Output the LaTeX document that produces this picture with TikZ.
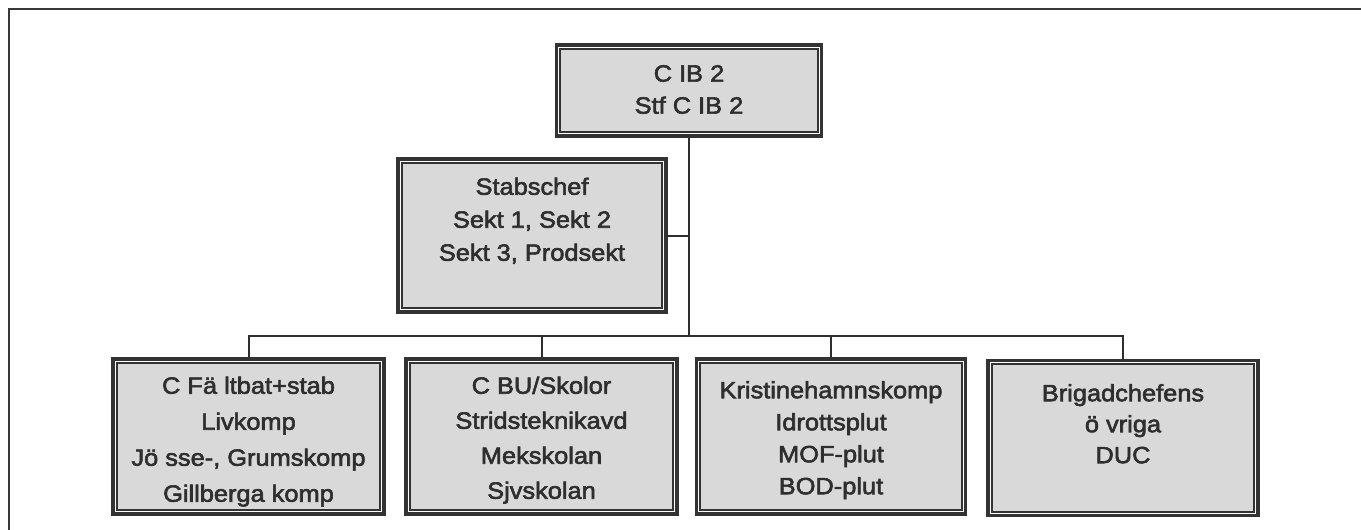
\documentclass[tikz,border=0pt]{standalone}
\usepackage{fontspec}
\setmainfont{Liberation Sans}[FakeStretch=1.08,FakeBold=2.5]
\begin{document}
\begin{tikzpicture}[x=1pt,y=-1pt,
  orgbox/.style={draw=black!80, line width=3.4pt, fill=white, inner sep=0pt},
  inframe/.style={draw=black!80, line width=2pt, fill=black!15},
  conn/.style={draw=black!82, line width=2pt},
  lbl/.style={anchor=north, inner sep=0pt, align=center, text=black!82}
]
\useasboundingbox (0,0) rectangle (1361,530);
% outer frame (open to the right and bottom)
\draw[draw=black!78, line width=2.2pt] (9,530) -- (9,9) -- (1361,9);

% boxes
\node[orgbox, minimum width=265pt, minimum height=91pt] (top) at (689,90.5) {};
\node[orgbox, minimum width=268pt, minimum height=153pt] (staff) at (532,235.5) {};
\node[orgbox, minimum width=271pt, minimum height=155pt] (b1) at (248.5,436.5) {};
\node[orgbox, minimum width=271pt, minimum height=155pt] (b2) at (541.5,436.5) {};
\node[orgbox, minimum width=269pt, minimum height=155pt] (b3) at (831,436.5) {};
\node[orgbox, minimum width=270pt, minimum height=155pt] (b4) at (1123,438) {};

\foreach \n in {top,staff,b1,b2,b3,b4}
  \draw[inframe] ([xshift=5.5pt,yshift=-5.5pt]\n.north west) rectangle ([xshift=-5.5pt,yshift=5.5pt]\n.south east);

% texts
\node[lbl, font=\fontsize{23.5}{32}\selectfont] (ttop) at (689,65) {C IB 2\\Stf C IB 2};
\node[lbl, font=\fontsize{23.5}{33}\selectfont] (tstaff) at (532,177.5) {Stabschef\\Sekt 1, Sekt 2\\Sekt 3, Prodsekt};
\node[lbl, font=\fontsize{23.5}{36}\selectfont] (tb1) at (248.5,376.5) {C Fä ltbat+stab\\Livkomp\\Jö sse-, Grumskomp\\Gillberga komp};
\node[lbl, font=\fontsize{23.5}{35}\selectfont] (tb2) at (541.5,376.5) {C BU/Skolor\\Stridsteknikavd\\Mekskolan\\Sjvskolan};
\node[lbl, font=\fontsize{23.5}{32}\selectfont] (tb3) at (831,381) {Kristinehamnskomp\\Idrottsplut\\MOF-plut\\BOD-plut};
\node[lbl, font=\fontsize{23.5}{31}\selectfont] (tb4) at (1123,384) {Brigadchefens\\ö vriga\\DUC};

% connectors
\coordinate (bus) at (689,336);
\draw[conn] (top.south) -- (bus);
\draw[conn] (staff.east) -- (staff.east -| bus);
\draw[conn] (b1.north) |- (bus);
\draw[conn] (b2.north) |- (bus);
\draw[conn] (b3.north) |- (bus);
\draw[conn] (b4.north) |- (bus);
\end{tikzpicture}
\end{document}
